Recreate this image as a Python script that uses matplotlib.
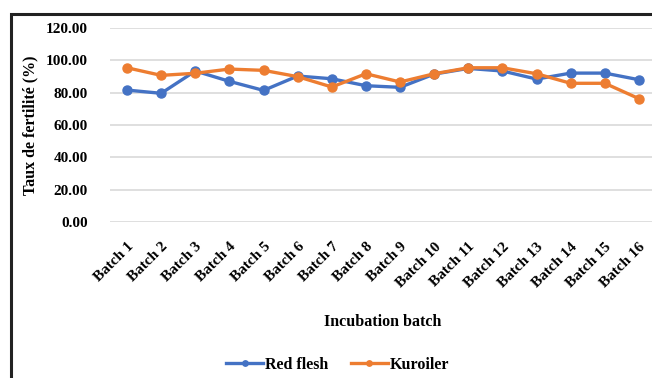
import matplotlib
matplotlib.use('Agg')
import matplotlib.pyplot as plt
from matplotlib.patches import Rectangle

plt.rcParams['font.family'] = 'Liberation Serif'
plt.rcParams['font.weight'] = 'bold'

# Data
batches = ['Batch %d' % i for i in range(1, 17)]
red_flesh = [81.6, 79.6, 93.4, 87.0, 81.4, 90.3, 88.6, 84.3,
             83.3, 91.5, 95.0, 93.4, 88.4, 92.1, 92.1, 88.0]
kuroiler = [95.4, 90.7, 92.0, 94.6, 93.8, 89.9, 83.5, 91.7,
            86.6, 91.7, 95.4, 95.4, 91.7, 85.8, 85.8, 76.3]
yticks = [0, 20, 40, 60, 80, 100, 120]

fig = plt.figure(figsize=(6.52, 3.78), dpi=100, facecolor='white')

# Outer frame (partly cut by the figure edge)
fig.patches.append(Rectangle((11/652, -0.05), 1.0, 1 - 14/378 + 0.05,
                             transform=fig.transFigure, fill=False,
                             edgecolor='#222222', lw=2.2))

ax = fig.add_axes([110/652, 1 - 222/378, 546/652, 194/378])
x = range(len(batches))
ax.plot(x, red_flesh, color='#4472C4', lw=2.4, marker='o', ms=6.5,
        label='Red flesh', zorder=3)
ax.plot(x, kuroiler, color='#ED7D31', lw=2.4, marker='o', ms=6.5,
        label='Kuroiler', zorder=3)

ax.set_xlim(-0.5, len(batches) - 0.5)
ax.set_ylim(0, 120)
ax.set_yticks(yticks)
ax.set_yticklabels(['%.2f' % v for v in yticks], fontsize=11, fontweight='bold')
ax.set_xticks(list(x))
ax.set_xticklabels(batches, rotation=45, ha='right', rotation_mode='anchor',
                   fontsize=11, fontweight='bold')
ax.tick_params(axis='x', length=0, pad=13)
ax.tick_params(axis='y', length=0, pad=16)
ax.grid(axis='y', color='#D9D9D9', lw=1.2)
ax.set_axisbelow(True)
for s in ax.spines.values():
    s.set_visible(False)

ax.set_ylabel('Taux de fertilité (%)', fontsize=11.5, fontweight='bold', labelpad=5)
fig.text(383/652, 1 - 322/378, 'Incubation batch', ha='center', va='center',
         fontsize=11.5, fontweight='bold')

fig.legend(loc='center', bbox_to_anchor=(338/652, 1 - 365/378), ncol=2,
           frameon=False, prop={'size': 11.5, 'weight': 'bold'},
           handlelength=2.3, columnspacing=1.4, handletextpad=0.15,
           markerscale=0.6)

fig.savefig('out.png', dpi=100, facecolor='white')
